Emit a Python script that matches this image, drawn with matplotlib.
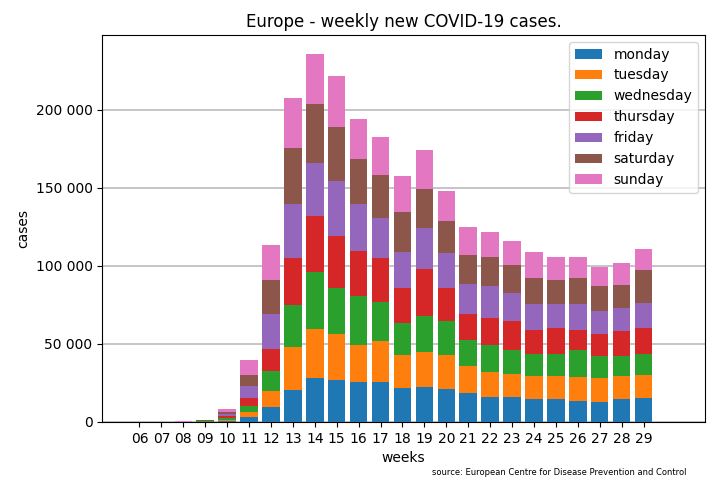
import numpy as np
import matplotlib.pyplot as plt
from matplotlib.ticker import FuncFormatter

weeks = ['06', '07', '08', '09', '10', '11', '12', '13', '14', '15', '16', '17',
         '18', '19', '20', '21', '22', '23', '24', '25', '26', '27', '28', '29']
days = ['monday', 'tuesday', 'wednesday', 'thursday', 'friday', 'saturday', 'sunday']

# cumulative daily totals per week
cumulative = np.array([
    [10, 20, 30, 40, 60, 80, 100],
    [20, 40, 60, 90, 120, 160, 200],
    [30, 60, 100, 150, 200, 250, 300],
    [100, 200, 400, 600, 800, 1000, 1200],
    [500, 1500, 2500, 3500, 5000, 6500, 8500],
    [3000, 6500, 10000, 15500, 23000, 30000, 39500],
    [9600, 20000, 32700, 46800, 69000, 91000, 113500],
    [20500, 48000, 75000, 105000, 140000, 175600, 207700],
    [28000, 59600, 96000, 132000, 166000, 204000, 236000],
    [27000, 56400, 86000, 119000, 154500, 189000, 222000],
    [25600, 49000, 81000, 109600, 140000, 168600, 194000],
    [25600, 52000, 77000, 105000, 131000, 158000, 182700],
    [21800, 43000, 63500, 86000, 109000, 134600, 157700],
    [22400, 45000, 68000, 98000, 124000, 149000, 174000],
    [21000, 43000, 65000, 86000, 108000, 129000, 148000],
    [18600, 36000, 52500, 69000, 88500, 107000, 125000],
    [16000, 32000, 49000, 66700, 87000, 106000, 122000],
    [16000, 30800, 46000, 64700, 82700, 100600, 116000],
    [15000, 29500, 43600, 59000, 75600, 92000, 109000],
    [15000, 29500, 43600, 60000, 75600, 91000, 105800],
    [13500, 28800, 46000, 59000, 75600, 92000, 105800],
    [12800, 28000, 42300, 56400, 71000, 87000, 99400],
    [14700, 29500, 42300, 58000, 73000, 88000, 102000],
    [15400, 30000, 43600, 60000, 76000, 97400, 111000],
])
daily = np.diff(cumulative, axis=1, prepend=0)

fig, ax = plt.subplots(figsize=(7.2, 4.8), dpi=100)
x = np.arange(len(weeks))
bottom = np.zeros(len(weeks))
for i, d in enumerate(days):
    ax.bar(x, daily[:, i], bottom=bottom, label=d, zorder=3)
    bottom += daily[:, i]

ax.set_xticks(x)
ax.set_xticklabels(weeks)
ax.set_xlim(-1.7, 25.8)
ax.set_ylim(0, 248000)
ax.yaxis.set_major_formatter(FuncFormatter(lambda v, p: f'{int(v):,}'.replace(',', ' ')))
ax.grid(axis='y', color='#bbbbbb', linewidth=1.2, zorder=0)
ax.set_title('Europe - weekly new COVID-19 cases.')
ax.set_xlabel('weeks')
ax.set_ylabel('cases')
ax.legend(loc='upper right')
fig.subplots_adjust(left=0.142, right=0.979, top=0.927, bottom=0.121)
fig.text(0.6, 0.01, 'source: European Centre for Disease Prevention and Control', fontsize=6)
fig.savefig('out.png')
